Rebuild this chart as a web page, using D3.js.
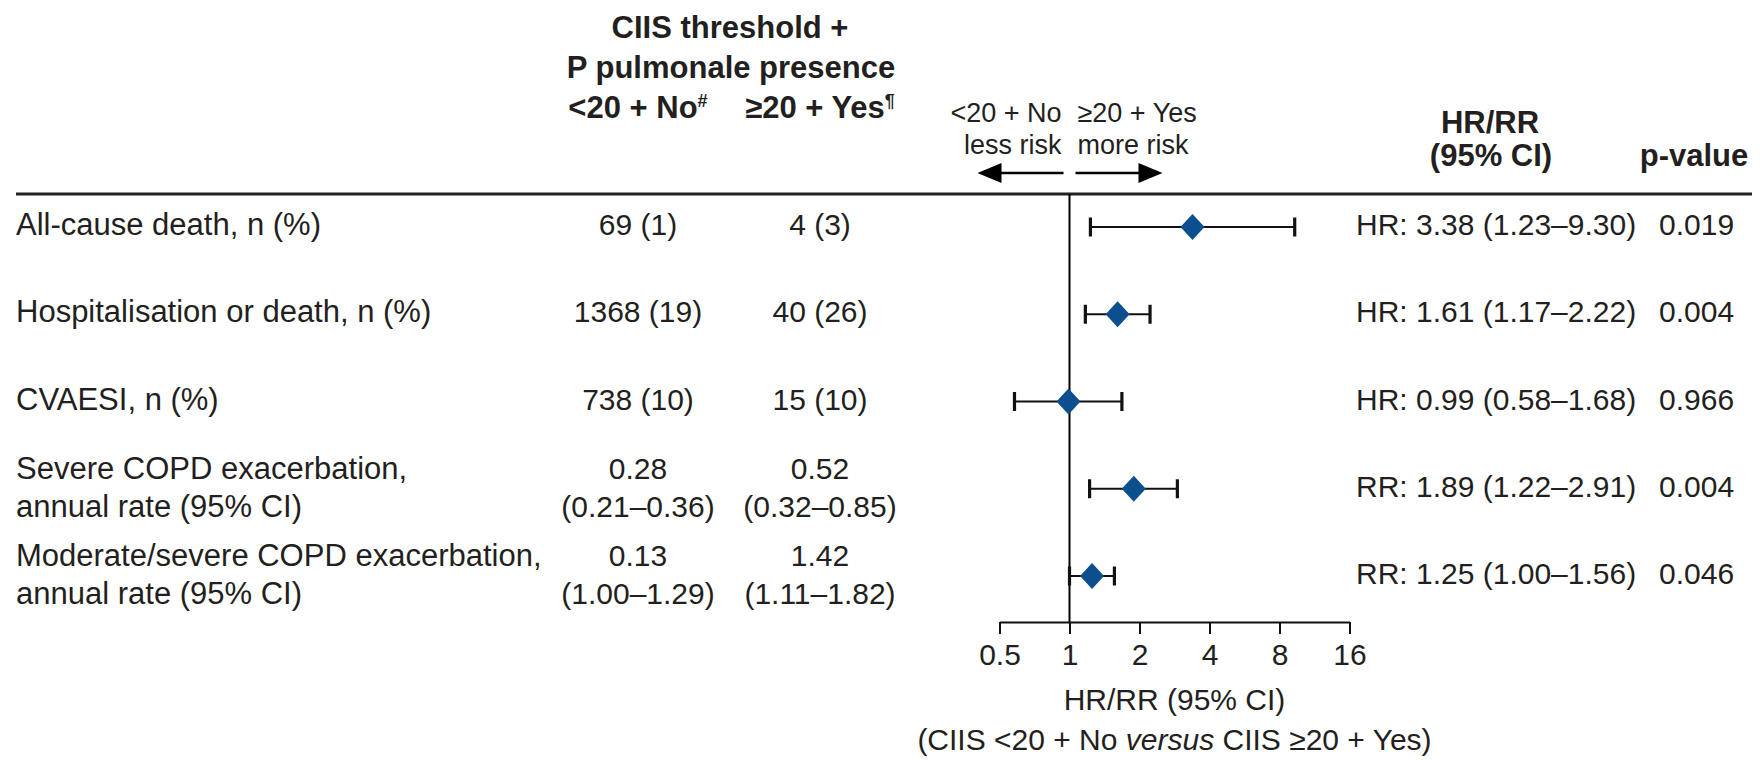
<!DOCTYPE html>
<html>
<head>
<meta charset="utf-8">
<script src="https://cdn.jsdelivr.net/npm/d3@7"></script>
<style>
  body { margin: 0; background: #fff; }
  svg text { font-family: "Liberation Sans", Arial, sans-serif; fill: #231f20; }
</style>
</head>
<body>
<div id="chart"></div>
<script>
// data
const outcomes = [
  ["All-cause death, n (%)"],
  ["Hospitalisation or death, n (%)"],
  ["CVAESI, n (%)"],
  ["Severe COPD exacerbation,", "annual rate (95% CI)"],
  ["Moderate/severe COPD exacerbation,", "annual rate (95% CI)"]
];
const groupLow = [["69 (1)"], ["1368 (19)"], ["738 (10)"], ["0.28", "(0.21–0.36)"], ["0.13", "(1.00–1.29)"]];
const groupHigh = [["4 (3)"], ["40 (26)"], ["15 (10)"], ["0.52", "(0.32–0.85)"], ["1.42", "(1.11–1.82)"]];
const ratioType = ["HR", "HR", "HR", "RR", "RR"];
const estimate = [3.38, 1.61, 0.99, 1.89, 1.25];
const lower = [1.23, 1.17, 0.58, 1.22, 1.00];
const upper = [9.30, 2.22, 1.68, 2.91, 1.56];
const pValues = ["0.019", "0.004", "0.966", "0.004", "0.046"];
const xTicks = [0.5, 1, 2, 4, 8, 16];

const width = 1760, height = 760;
const ruleY = 194, axisY = 622;
const col1 = 638, col2 = 820, hrX = 1356, pX = 1659;
const blue = "#0b4f8e", ink = "#231f20";

const svg = d3.select("#chart").append("svg")
  .attr("width", width)
  .attr("height", height)
  .style("background", "#fff");

const x = d3.scaleLog().base(2)
  .domain([0.5, 16])
  .range([999.5, 1349.5]);

const y = d3.scalePoint()
  .domain(d3.range(outcomes.length))
  .range([227, 576]);

// column headers
const hdr = svg.append("g").style("font-weight", "bold").style("font-size", "31px");
hdr.append("text").attr("x", 730).attr("y", 38).attr("text-anchor", "middle").text("CIIS threshold +");
hdr.append("text").attr("x", 731).attr("y", 78).attr("text-anchor", "middle").text("P pulmonale presence");
let h1 = hdr.append("text").attr("x", col1).attr("y", 118).attr("text-anchor", "middle");
h1.append("tspan").text("<20 + No");
h1.append("tspan").attr("dy", -11).style("font-size", "18px").text("#");
let h2 = hdr.append("text").attr("x", col2).attr("y", 118).attr("text-anchor", "middle");
h2.append("tspan").text("≥20 + Yes");
h2.append("tspan").attr("dy", -11).style("font-size", "18px").text("¶");

hdr.append("text").attr("x", 1490).attr("y", 133).attr("text-anchor", "middle").text("HR/RR");
hdr.append("text").attr("x", 1491).attr("y", 166).attr("text-anchor", "middle").text("(95% CI)");
hdr.append("text").attr("x", 1694).attr("y", 166).attr("text-anchor", "middle").text("p-value");

// direction labels + arrows
const x1 = x(1);
const dir = svg.append("g").style("font-size", "27px");
dir.append("text").attr("x", x1 - 8).attr("y", 122).attr("text-anchor", "end").text("<20 + No");
dir.append("text").attr("x", x1 - 8).attr("y", 154).attr("text-anchor", "end").text("less risk");
dir.append("text").attr("x", x1 + 8).attr("y", 122).text("≥20 + Yes");
dir.append("text").attr("x", x1 + 8).attr("y", 154).text("more risk");

const arrowY = 173;
dir.append("line").attr("x1", x1 - 6).attr("x2", x1 - 72).attr("y1", arrowY).attr("y2", arrowY)
  .attr("stroke", "#000").attr("stroke-width", 2.5);
dir.append("path").attr("d", `M${x1 - 92},${arrowY} L${x1 - 68},${arrowY - 10} L${x1 - 68},${arrowY + 10}Z`).attr("fill", "#000");
dir.append("line").attr("x1", x1 + 6).attr("x2", x1 + 72).attr("y1", arrowY).attr("y2", arrowY)
  .attr("stroke", "#000").attr("stroke-width", 2.5);
dir.append("path").attr("d", `M${x1 + 93},${arrowY} L${x1 + 69},${arrowY - 10} L${x1 + 69},${arrowY + 10}Z`).attr("fill", "#000");

// top rule
svg.append("line").attr("x1", 16).attr("x2", 1752).attr("y1", ruleY).attr("y2", ruleY)
  .attr("stroke", "#222").attr("stroke-width", 3);

// reference line at 1
svg.append("line").attr("x1", x1).attr("x2", x1).attr("y1", ruleY).attr("y2", axisY)
  .attr("stroke", "#000").attr("stroke-width", 2);

// row text
function multiline(g, lines, xPos, cy, anchor) {
  const t = g.append("text").attr("x", xPos).attr("text-anchor", anchor);
  if (lines.length === 1) {
    t.attr("y", cy + 8).text(lines[0]);
  } else {
    t.attr("y", cy - 10).text(lines[0]);
    g.append("text").attr("x", xPos).attr("y", cy + 28).attr("text-anchor", anchor).text(lines[1]);
  }
}

const rows = svg.append("g");
outcomes.forEach((lines, i) => {
  const g = rows.append("g");
  multiline(g.append("g").style("font-size", "31px"), lines, 16, y(i), "start");
  multiline(g.append("g").style("font-size", "30px"), groupLow[i], col1, y(i), "middle");
  multiline(g.append("g").style("font-size", "30px"), groupHigh[i], col2, y(i), "middle");
  g.append("text").style("font-size", "30px").attr("x", hrX).attr("y", y(i) + 8)
    .text(`${ratioType[i]}: ${estimate[i].toFixed(2)} (${lower[i].toFixed(2)}–${upper[i].toFixed(2)})`);
  g.append("text").style("font-size", "30px").attr("x", pX).attr("y", y(i) + 8).text(pValues[i]);
});

// error bars
const bars = svg.append("g").selectAll("g")
  .data(estimate)
  .join("g");

bars.append("line")
  .attr("x1", (d, i) => x(lower[i]))
  .attr("x2", (d, i) => x(upper[i]))
  .attr("y1", (d, i) => y(i))
  .attr("y2", (d, i) => y(i))
  .attr("stroke", "#111").attr("stroke-width", 2.2);

bars.selectAll(".cap")
  .data((d, i) => [lower[i], upper[i]].map(v => ({ v, i })))
  .join("line")
  .attr("class", "cap")
  .attr("x1", c => x(c.v)).attr("x2", c => x(c.v))
  .attr("y1", c => y(c.i) - 9.5).attr("y2", c => y(c.i) + 9.5)
  .attr("stroke", "#111").attr("stroke-width", 3.2);

bars.append("path")
  .attr("d", "M0,-13L12,0L0,13L-12,0Z")
  .attr("transform", (d, i) => `translate(${x(d)},${y(i)})`)
  .attr("fill", blue);

// x axis
const axis = svg.append("g")
  .attr("transform", `translate(0,${axisY})`)
  .call(d3.axisBottom(x).tickValues(xTicks).tickFormat(d => String(d))
    .tickSize(12).tickSizeOuter(0).tickPadding(10));
axis.selectAll("path, line").attr("stroke", "#111").attr("stroke-width", 2);
axis.selectAll("text").style("font-size", "30px").attr("fill", ink)
  .style("font-family", '"Liberation Sans", Arial, sans-serif');

const midX = (x(0.5) + x(16)) / 2;
svg.append("text").attr("x", midX).attr("y", 710).attr("text-anchor", "middle")
  .style("font-size", "30px").text("HR/RR (95% CI)");
const cap = svg.append("text").attr("x", midX).attr("y", 750).attr("text-anchor", "middle")
  .style("font-size", "30px");
cap.append("tspan").text("(CIIS <20 + No ");
cap.append("tspan").style("font-style", "italic").text("versus");
cap.append("tspan").text(" CIIS ≥20 + Yes)");
</script>
</body>
</html>
